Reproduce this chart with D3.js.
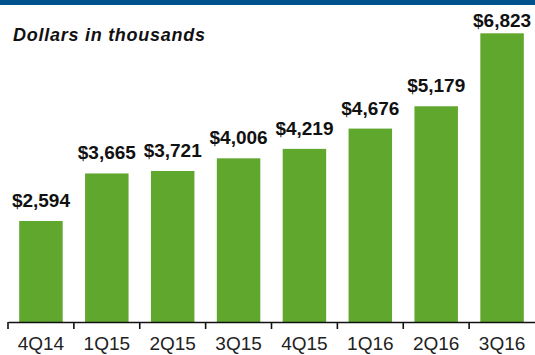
<!DOCTYPE html>
<html>
<head>
<meta charset="utf-8">
<script src="https://cdn.jsdelivr.net/npm/d3@7/dist/d3.min.js"></script>
<style>
  html, body { margin: 0; padding: 0; background: #fff; }
  svg { display: block; }
  text { font-family: "Liberation Sans", Arial, sans-serif; }
</style>
</head>
<body>
<svg id="chart" width="535" height="355"></svg>
<script>
// Quarterly values, dollars in thousands
const quarters = ["4Q14", "1Q15", "2Q15", "3Q15", "4Q15", "1Q16", "2Q16", "3Q16"];
const values = [2594, 3665, 3721, 4006, 4219, 4676, 5179, 6823];
const valueLabels = ["$2,594", "$3,665", "$3,721", "$4,006", "$4,219", "$4,676", "$5,179", "$6,823"];
const titleText = "Dollars in thousands";

const W = 535, H = 355;
const baseY = 322;
const svg = d3.select("#chart");

// header band
svg.append("rect")
  .attr("x", 0).attr("y", 0)
  .attr("width", W).attr("height", 5)
  .attr("fill", "#00528c");

const x = d3.scaleBand()
  .domain(quarters)
  .range([8, 535])
  .paddingInner(0.34)
  .paddingOuter(0.17);

const y = d3.scaleLinear()
  .domain([318, 7000])
  .range([baseY, baseY - 0.04438 * (7000 - 318)]);

const data = quarters.map((q, i) => ({ q, v: values[i], label: valueLabels[i] }));

// bars
svg.append("g")
  .selectAll("rect")
  .data(data)
  .join("rect")
  .attr("x", d => x(d.q))
  .attr("y", d => y(d.v))
  .attr("width", x.bandwidth())
  .attr("height", d => baseY - y(d.v))
  .attr("fill", "#5fa72d");

// value labels above bars
svg.append("g")
  .selectAll("text")
  .data(data)
  .join("text")
  .attr("x", d => x(d.q) + x.bandwidth() / 2)
  .attr("y", d => Math.max(y(d.v) - 14, 27))
  .attr("text-anchor", "middle")
  .attr("font-size", 19)
  .attr("font-weight", "bold")
  .attr("fill", "#111")
  .text(d => d.label);

// category axis with ticks between bands
const step = x.step();
const axis = svg.append("g")
  .attr("transform", `translate(0,${baseY})`)
  .call(d3.axisBottom(x).tickSize(7).tickSizeOuter(0));

axis.select(".domain")
  .attr("stroke", "#111")
  .attr("stroke-width", 1.6);

axis.selectAll(".tick line")
  .attr("x1", -step / 2)
  .attr("x2", -step / 2)
  .attr("stroke", "#111")
  .attr("stroke-width", 1.6);

axis.selectAll(".tick text")
  .attr("y", 28)
  .attr("dy", 0)
  .attr("font-size", 19)
  .attr("font-family", "Liberation Sans, Arial, sans-serif")
  .attr("fill", "#222");

// title
svg.append("text")
  .attr("x", 13)
  .attr("y", 41)
  .attr("font-size", 18)
  .attr("font-weight", "bold")
  .attr("font-style", "italic")
  .attr("fill", "#111")
  .attr("textLength", 192)
  .attr("lengthAdjust", "spacing")
  .text(titleText);
</script>
</body>
</html>
